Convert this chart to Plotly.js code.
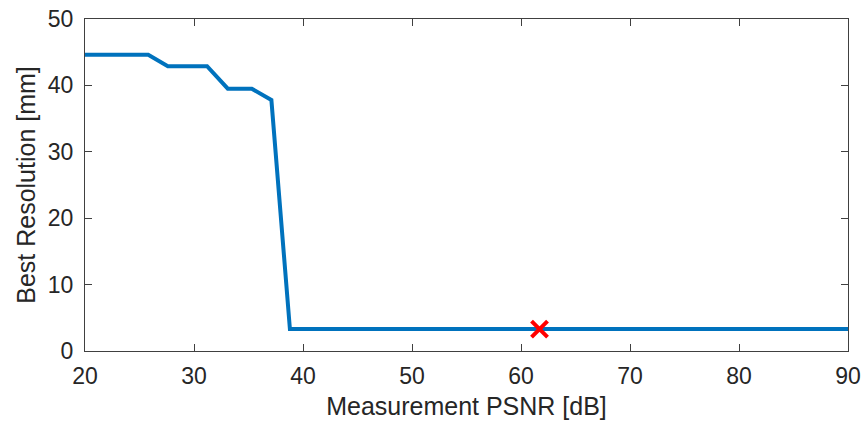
<!DOCTYPE html>
<html>
<head>
<meta charset="utf-8">
<script src="https://cdn.plot.ly/plotly-3.0.1.min.js"></script>
<style>html,body{margin:0;padding:0;background:#fff;}#chart{width:864px;height:426px;}</style>
</head>
<body>
<div id="chart"></div>
<script>
// Measurement PSNR [dB]
const psnr = [20, 25.8, 27.6, 31.2, 33.1, 35.3, 37.1, 38.8, 90];
// Best resolution [mm]
const bestResolution = [44.6, 44.6, 42.9, 42.9, 39.5, 39.5, 37.8, 3.3, 3.3];
// Marked operating point
const markPsnr = [61.7];
const markResolution = [3.3];
const xTicks = [20, 30, 40, 50, 60, 70, 80, 90];
const yTicks = [0, 10, 20, 30, 40, 50];

const traces = [
  {
    x: psnr, y: bestResolution, type: 'scatter', mode: 'lines',
    line: {color: '#0072BD', width: 4}, hoverinfo: 'skip', cliponaxis: true
  },
  {
    x: markPsnr, y: markResolution, type: 'scatter', mode: 'markers',
    marker: {symbol: 'x-thin', size: 16, color: '#FF0000', line: {color: '#FF0000', width: 4}},
    cliponaxis: false
  }
];

const axisCommon = {
  showgrid: false, zeroline: false, showline: true, mirror: 'ticks',
  linecolor: '#404040', linewidth: 1,
  ticks: 'inside', ticklen: 7, tickwidth: 1, tickcolor: '#404040',
  tickfont: {family: 'Liberation Sans, Arial, sans-serif', size: 23, color: '#262626'},
  tickmode: 'array'
};

const layout = {
  width: 864, height: 426,
  margin: {l: 85, r: 16, t: 19, b: 75},
  paper_bgcolor: '#fff', plot_bgcolor: '#fff',
  showlegend: false,
  xaxis: Object.assign({}, axisCommon, {
    range: [20, 90], tickvals: xTicks, ticktext: xTicks.map(String),
    ticklabelstandoff: 4,
    title: {text: 'Measurement PSNR [dB]', standoff: 9,
      font: {family: 'Liberation Sans, Arial, sans-serif', size: 25, color: '#262626'}}
  }),
  yaxis: Object.assign({}, axisCommon, {
    range: [0, 50], tickvals: yTicks, ticktext: yTicks.map(String),
    ticklabelstandoff: 6,
    title: {text: 'Best Resolution [mm]', standoff: 5,
      font: {family: 'Liberation Sans, Arial, sans-serif', size: 25, color: '#262626'}}
  })
};

Plotly.newPlot('chart', traces, layout, {displayModeBar: false, staticPlot: true});
</script>
</body>
</html>
